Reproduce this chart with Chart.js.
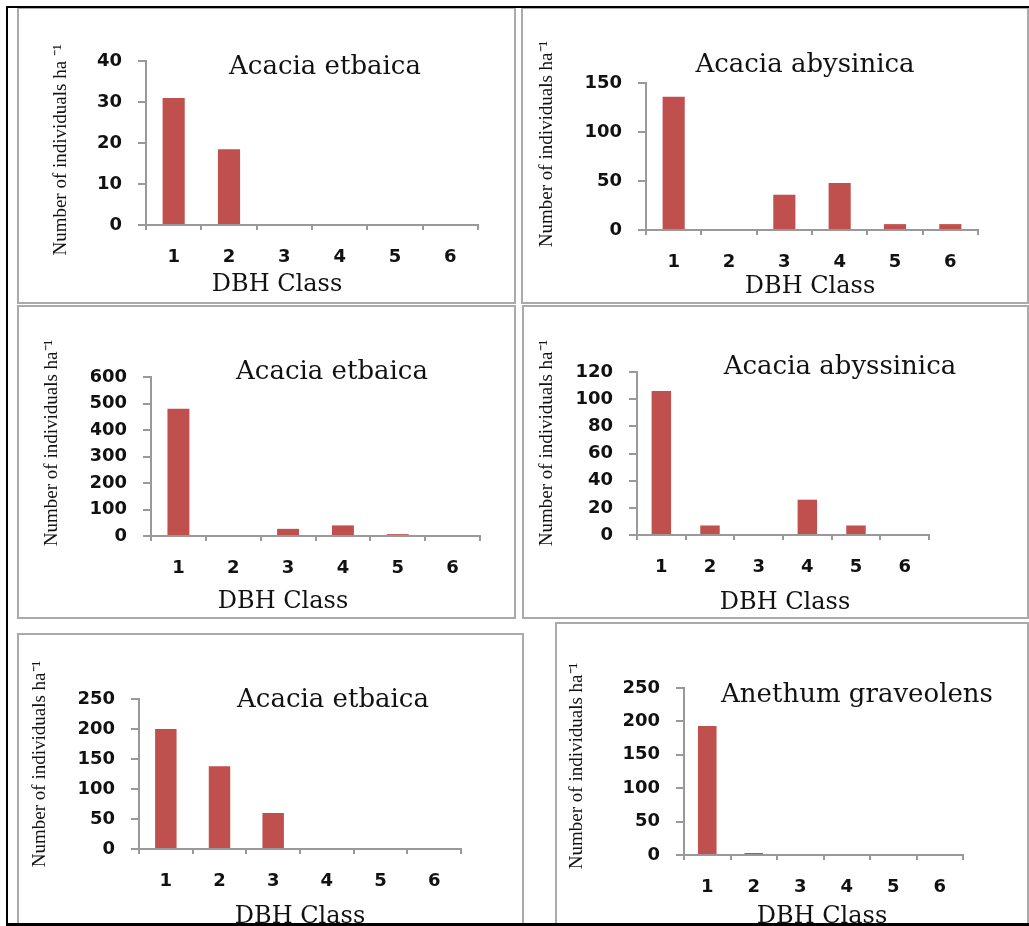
<!DOCTYPE html>
<html>
<head>
<meta charset="utf-8">
<title>DBH class distribution</title>
<script src="https://cdn.jsdelivr.net/npm/chart.js@4.4.0/dist/chart.umd.min.js"></script>
<style>
  html, body { margin: 0; padding: 0; background: #fff; overflow: hidden; }
  #sheet { position: relative; width: 1029px; height: 926px; overflow: hidden; }
  .frame {
    position: absolute; left: 6px; top: 6px; width: 1023px; height: 920px;
    border-left: 2px solid #000; border-top: 2px solid #000; border-bottom: 3px solid #000;
    box-sizing: border-box; z-index: 5; pointer-events: none;
  }
  .box { position: absolute; border: 2px solid #aaa; box-sizing: border-box; }
  canvas { position: absolute; }
</style>
</head>
<body>
<div id="sheet"><div class="frame"></div></div>
<script>
// DBH classes and number of individuals per ha for each panel
const dbhClasses = ['1', '2', '3', '4', '5', '6'];
const etbaicaTop = [31, 18.5, 0, 0, 0, 0];
const abysinicaTop = [136, 0, 36, 48, 6, 6];
const etbaicaMid = [480, 0, 27, 40, 7, 0];
const abyssinicaMid = [106, 7, 0, 26, 7, 0];
const etbaicaLow = [200, 138, 60, 0, 0, 0];
const anethumLow = [193, 3, 0, 0, 0, 0];

const panelTitles = ['Acacia etbaica', 'Acacia abysinica', 'Acacia etbaica',
                     'Acacia abyssinica', 'Acacia etbaica', 'Anethum graveolens'];
const yMax = [40, 150, 600, 120, 250, 250];
const yStep = [10, 50, 100, 20, 50, 50];
const yLabels = ['Number of individuals ha \u207B\u00B9', 'Number of individuals ha\u207B\u00B9',
                 'Number of individuals ha\u207B\u00B9', 'Number of individuals ha\u207B\u00B9',
                 'Number of individuals ha\u207B\u00B9', 'Number of individuals ha\u207B\u00B9'];
const xLabel = 'DBH Class';

const BAR = '#C0504D';
const AXIS = '#999';
const INK = '#111';
const YW = 60, XH = 50;

// page layout: box [l,t,r,b], plot area [l,t,r,b], text centres
const panels = [
  { values: etbaicaTop, box: [17, 7, 516, 304], area: [146, 61, 478, 225],
    title: [325, 67], xt: [277, 285], yt: [61, 150] },
  { values: abysinicaTop, box: [521, 7, 1029, 304], area: [646, 83, 978, 230],
    title: [805, 65], xt: [810, 287], yt: [547, 144] },
  { values: etbaicaMid, box: [17, 305, 516, 619], area: [151, 377, 480, 536],
    title: [332, 372], xt: [283, 602], yt: [52, 443] },
  { values: abyssinicaMid, box: [522, 305, 1029, 619], area: [637, 372, 929, 535],
    title: [840, 367], xt: [785, 603], yt: [547, 443] },
  { values: etbaicaLow, box: [17, 633, 524, 945], area: [139, 699, 461, 849],
    title: [333, 700], xt: [300, 917], yt: [40, 764] },
  { values: anethumLow, box: [555, 622, 1029, 945], area: [684, 688, 963, 855],
    title: [857, 695], xt: [822, 917], yt: [577, 766] }
];

const panelText = {
  id: 'panelText',
  afterDraw(chart, args, o) {
    const ctx = chart.ctx;
    ctx.save();
    ctx.fillStyle = INK;
    ctx.textAlign = 'center';
    ctx.textBaseline = 'middle';
    ctx.font = '26px "DejaVu Serif"';
    ctx.fillText(o.title, o.titleX, o.titleY);
    ctx.font = '24px "DejaVu Serif"';
    ctx.fillText(o.xTitle, o.xtX, o.xtY);
    ctx.translate(o.ytX, o.ytY);
    ctx.rotate(-Math.PI / 2);
    ctx.font = '19px "Liberation Serif"';
    ctx.fillText(o.yTitle, 0, 0);
    ctx.restore();
  }
};

const sheet = document.getElementById('sheet');
const tickFont = { family: 'DejaVu Sans', weight: 'bold', size: 18 };

panels.forEach((p, i) => {
  const [bl, bt, br, bb] = p.box;
  const w = br - bl, h = bb - bt;

  const box = document.createElement('div');
  box.className = 'box';
  box.style.cssText = `left:${bl}px;top:${bt}px;width:${w}px;height:${h}px`;
  sheet.appendChild(box);

  const canvas = document.createElement('canvas');
  canvas.width = w; canvas.height = h;
  canvas.style.cssText = `left:${bl}px;top:${bt}px;width:${w}px;height:${h}px`;
  sheet.appendChild(canvas);

  const [al, at, ar, ab] = p.area;
  new Chart(canvas.getContext('2d'), {
    type: 'bar',
    data: {
      labels: dbhClasses,
      datasets: [{
        data: p.values,
        backgroundColor: BAR,
        barPercentage: 0.4,
        categoryPercentage: 1
      }]
    },
    options: {
      responsive: false,
      animation: false,
      layout: { padding: { left: al - bl - YW, top: at - bt, right: br - ar, bottom: bb - ab - XH } },
      plugins: {
        legend: { display: false },
        tooltip: { enabled: false },
        panelText: {
          title: panelTitles[i], titleX: p.title[0] - bl, titleY: p.title[1] - bt,
          xTitle: xLabel, xtX: p.xt[0] - bl, xtY: p.xt[1] - bt,
          yTitle: yLabels[i], ytX: p.yt[0] - bl, ytY: p.yt[1] - bt
        }
      },
      scales: {
        x: {
          offset: true,
          grid: { offset: true, drawOnChartArea: false, tickLength: 5, color: AXIS, lineWidth: 2 },
          border: { color: AXIS, width: 2 },
          ticks: { font: tickFont, color: INK, padding: 17, maxRotation: 0 },
          afterFit: s => { s.height = XH; }
        },
        y: {
          min: 0,
          max: yMax[i],
          grid: { drawOnChartArea: false, tickLength: 8, color: AXIS, lineWidth: 2 },
          border: { color: AXIS, width: 2 },
          ticks: { stepSize: yStep[i], font: tickFont, color: INK, padding: 16 },
          afterFit: s => { s.width = YW; }
        }
      }
    },
    plugins: [panelText]
  });
});
</script>
</body>
</html>
